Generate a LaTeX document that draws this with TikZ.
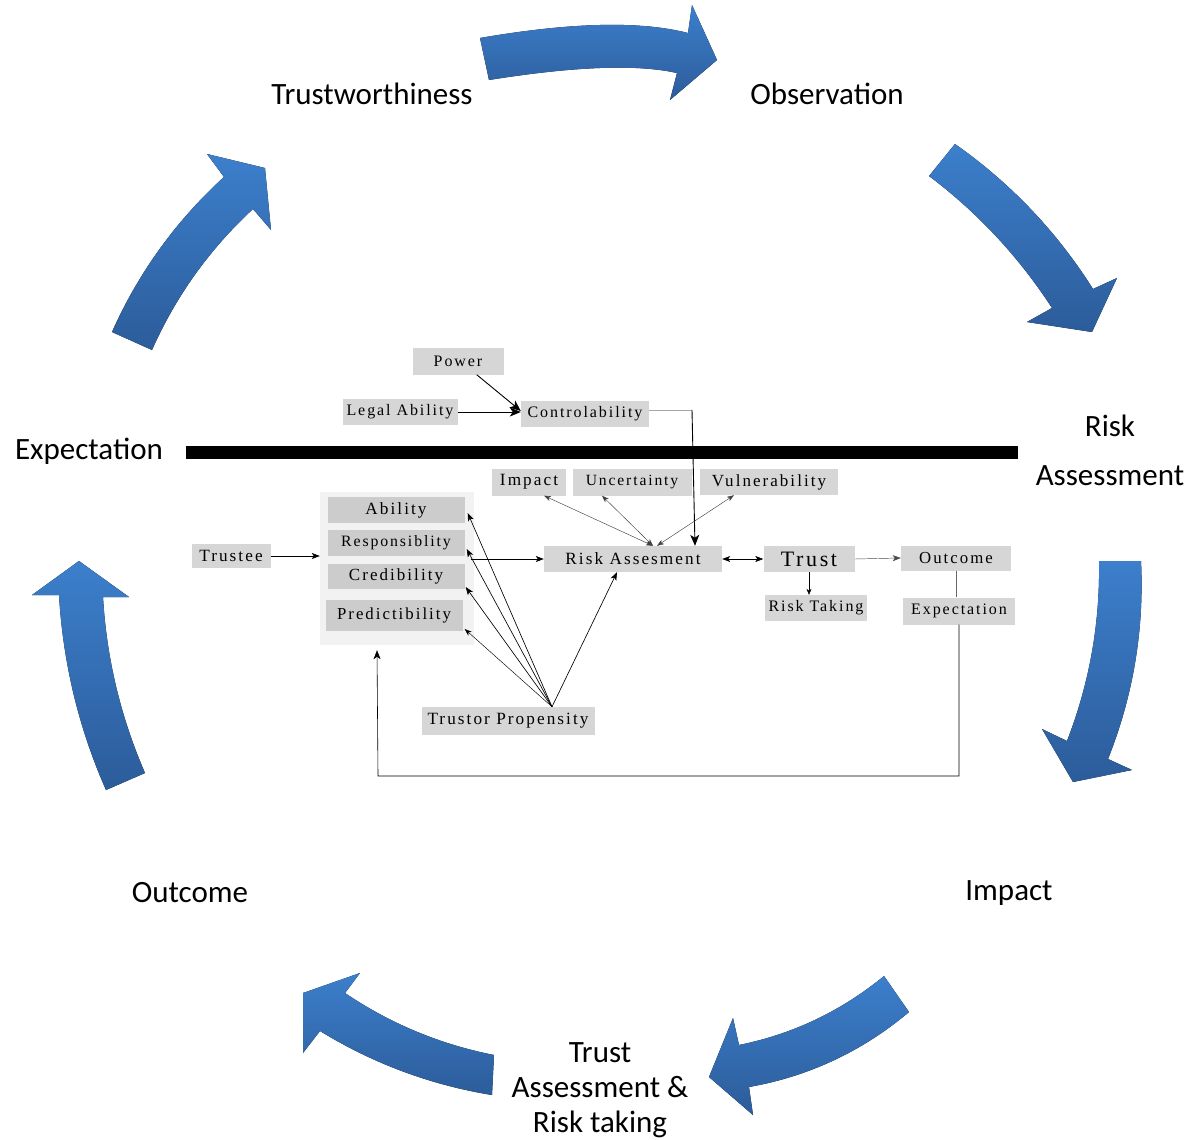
\documentclass[tikz,border=0pt]{standalone}
\usepackage{fontspec}
\newfontfamily\lfont{Carlito}
\newfontfamily\dfont[LetterSpace=12]{Liberation Serif}
\newcommand\dsz[1]{\dfont\fontsize{#1}{#1}\selectfont}
\usetikzlibrary{arrows.meta,calc}
\definecolor{bluetop}{HTML}{3C7FCC}
\definecolor{bluebot}{HTML}{2C5C9A}
\definecolor{boxgray}{HTML}{D6D6D6}
\definecolor{contgray}{HTML}{F2F2F2}
\tikzset{
  blockarrow/.style={top color=bluetop, bottom color=bluebot, draw=none},
  cyclabel/.style={font=\lfont\fontsize{31}{35}\selectfont, align=center, inner sep=0pt},
  gbox/.style={fill=boxgray, inner sep=0pt, font=\dsz{17}},
  bigarr/.style={line width=0.9pt, -{Stealth[length=11pt,width=9pt,inset=3pt]}},
  smallarr/.style={line width=0.65pt, -{Stealth[length=8pt,width=6pt,inset=2pt]}},
  thinarr/.style={line width=0.45pt, draw=black!75, {Stealth[length=7pt,width=5pt,inset=2pt]}-{Stealth[length=7pt,width=5pt,inset=2pt]}}
}
\begin{document}
\begin{tikzpicture}[x=1pt,y=-1pt]
\useasboundingbox (0,0) rectangle (1192,1140);

% ---------- cycle block arrows (quadratic edges) ----------
% top
\fill[blockarrow] (480,38)
  .. controls ($(480,38)!0.6667!(616,14.5)$) and ($(688,33)!0.6667!(616,14.5)$) .. (688,33)
  -- (692,5) -- (717,60) -- (670,100) -- (677,73)
  .. controls ($(677,73)!0.6667!(617,59.5)$) and ($(489,80)!0.6667!(617,59.5)$) .. (489,80) -- cycle;
% right top
\fill[blockarrow] (955,144)
  .. controls ($(955,144)!0.6667!(1038.5,202.7)$) and ($(1093,289)!0.6667!(1038.5,202.7)$) .. (1093,289)
  -- (1117,278) -- (1092,332) -- (1027,322) -- (1052,308)
  .. controls ($(1052,308)!0.6667!(1002,231)$) and ($(929,176)!0.6667!(1002,231)$) .. (929,176) -- cycle;
% right bottom
\fill[blockarrow] (1099,561) -- (1141,561)
  .. controls ($(1141,561)!0.6667!(1146,663.6)$) and ($(1108,759)!0.6667!(1146,663.6)$) .. (1108,759)
  -- (1132,770) -- (1073,782) -- (1042,729) -- (1067,741)
  .. controls ($(1067,741)!0.6667!(1100.7,654)$) and ($(1099,561)!0.6667!(1100.7,654)$) .. (1099,561) -- cycle;
% bottom right
\fill[blockarrow] (884,976)
  .. controls ($(884,976)!0.6667!(820,1028.6)$) and ($(739,1045)!0.6667!(820,1028.6)$) .. (739,1045)
  -- (733,1018) -- (709,1077) -- (753,1115) -- (749,1087)
  .. controls ($(749,1087)!0.6667!(839,1071)$) and ($(909,1012)!0.6667!(839,1071)$) .. (909,1012) -- cycle;
% bottom left
\fill[blockarrow] (494,1055)
  .. controls ($(494,1055)!0.6667!(413,1039)$) and ($(345,993)!0.6667!(413,1039)$) .. (345,993)
  -- (360,973) -- (303,993) -- (303,1053) -- (320,1031)
  .. controls ($(320,1031)!0.6667!(400,1080)$) and ($(492,1095)!0.6667!(400,1080)$) .. (492,1095) -- cycle;
% left
\fill[blockarrow] (106,790)
  .. controls ($(106,790)!0.6667!(65,697)$) and ($(59,595)!0.6667!(65,697)$) .. (59,595)
  -- (32,595) -- (79,561) -- (129,597) -- (103,597)
  .. controls ($(103,597)!0.6667!(108.4,688.7)$) and ($(145,773)!0.6667!(108.4,688.7)$) .. (145,773) -- cycle;
% left top
\fill[blockarrow] (152,350) -- (112,332)
  .. controls ($(112,332)!0.6667!(151.8,242.8)$) and ($(224,177)!0.6667!(151.8,242.8)$) .. (224,177)
  -- (207,154) -- (265,168) -- (271,230) -- (253,209)
  .. controls ($(253,209)!0.6667!(188,269)$) and ($(152,350)!0.6667!(188,269)$) .. (152,350) -- cycle;

% ---------- cycle labels ----------
\node[cyclabel] (lTW) at (372,94) {Trustworthiness};
\node[cyclabel] (lOB) at (827,94) {Observation};
\node[cyclabel] (lRA) at (1110,450) {Risk\\[14pt]Assessment};
\node[cyclabel] (lEX) at (89,451) {Expectation};
\node[cyclabel] (lIM) at (1009,893) {Impact};
\node[cyclabel] (lOU) at (190,893) {Outcome};
\node[cyclabel] (lTR) at (600,1090) {Trust\\Assessment \&\\Risk taking};

% ---------- separator bar ----------
\fill[black] (186,446) rectangle (1018,459);

% ---------- inner diagram ----------
\node[fill=contgray, minimum width=154pt, minimum height=153pt, inner sep=0pt] (cont) at (397,568.5) {};

\node[gbox, font=\dsz{16}, minimum width=91pt, minimum height=27pt] (power) at (458,361) {Power};
\node[gbox, font=\dsz{16}, minimum width=115pt, minimum height=26pt] (legal) at (400,412) {Legal Ability};
\node[gbox, font=\dsz{16}, minimum width=128pt, minimum height=26pt] (ctrl) at (585,414) {Controlability};
\node[gbox, font=\dsz{17.2}, minimum width=74pt, minimum height=27pt] (impact) at (529,482) {Impact};
\node[gbox, font=\dsz{15.6}, minimum width=119pt, minimum height=27pt] (unc) at (632,482) {Uncertainty};
\node[gbox, font=\dsz{17}, minimum width=138pt, minimum height=26pt] (vul) at (769,482) {Vulnerability};

\node[gbox, fill=black!20, font=\dsz{17.2}, minimum width=137pt, minimum height=26pt] (ability) at (396,510) {Ability};
\node[gbox, fill=black!20, font=\dsz{15.8}, minimum width=137pt, minimum height=26pt] (resp) at (396,543) {Responsiblity};
\node[gbox, fill=black!20, font=\dsz{17}, minimum width=137pt, minimum height=25pt] (cred) at (396,576) {Credibility};
\node[gbox, fill=black!20, font=\dsz{16.8}, minimum width=137pt, minimum height=31pt] (pred) at (394,615) {Predictibility};

\node[gbox, font=\dsz{17.2}, minimum width=79pt, minimum height=24pt] (trustee) at (231,556) {Trustee};
\node[gbox, font=\dsz{17.2}, minimum width=178pt, minimum height=26pt] (risk) at (633,559) {Risk Assesment};
\node[gbox, font=\dsz{22}, minimum width=91pt, minimum height=26pt] (trust) at (809,559) {Trust};
\node[gbox, font=\dsz{16.8}, minimum width=110pt, minimum height=25pt] (outcome) at (956,558) {Outcome};
\node[gbox, font=\dsz{16}, minimum width=102pt, minimum height=26pt] (rtake) at (816,608) {Risk Taking};
\node[gbox, font=\dsz{16}, minimum width=112pt, minimum height=27pt] (exp) at (959,611) {Expectation};
\node[gbox, font=\dsz{17.2}, minimum width=173pt, minimum height=28pt] (tprop) at (508,721) {Trustor Propensity};

% connectors
\draw[bigarr] ([xshift=-27pt]power.south east) -- ([yshift=3pt]ctrl.west);
\draw[bigarr] (legal.east) -- (legal.east -| ctrl.west);
\coordinate (cc) at (692,410);
\draw[line width=0.6pt, draw=black!35] ([yshift=4pt]ctrl.east) -- (cc);
\draw[bigarr] (cc) -- ([xshift=62pt]risk.north);

\coordinate (rtop) at ([xshift=20pt]risk.north);
\draw[thinarr] ([xshift=15pt]impact.south) -- (rtop);
\draw[thinarr] ([xshift=-30pt]unc.south) -- (rtop);
\draw[thinarr] ([xshift=-35pt]vul.south) -- ([xshift=24pt]risk.north);

\draw[smallarr] (trustee.east) -- (trustee.east -| cont.west);
\draw[smallarr] ([xshift=6pt,yshift=-16pt]resp.east) -- (risk.west);

\coordinate (tp) at ([xshift=44pt]tprop.north);
\draw[smallarr] (tp) -- ([xshift=3pt,yshift=-3pt]ability.east);
\draw[smallarr] (tp) -- ([xshift=2pt,yshift=-6pt]resp.east);
\draw[smallarr] (tp) -- ([xshift=1pt,yshift=-11pt]cred.east);
\draw[line width=0.45pt, -{Stealth[length=7pt,width=5pt,inset=2pt]}] (tp) -- ([xshift=2pt,yshift=-14pt]pred.east);
\draw[smallarr] (tp) -- ([xshift=-16pt]risk.south);

\draw[line width=0.6pt, {Stealth[length=8pt,width=6pt,inset=2pt]}-{Stealth[length=8pt,width=6pt,inset=2pt]}] (risk.east) -- (trust.west);
\draw[line width=0.45pt, draw=black!70, -{Stealth[length=8pt,width=6pt,inset=2pt]}] (trust.east) -- (outcome.west);
\draw[line width=0.45pt, -{Stealth[length=6pt,width=5pt,inset=2pt]}] (trust.south) -- (trust.south |- rtake.north);
\draw[line width=0.6pt, draw=black!60] (outcome.south) -- (outcome.south |- exp.north);

\coordinate (fb) at (378,776);
\draw[line width=0.6pt, -{Stealth[length=9pt,width=7pt,inset=2.5pt]}] (exp.south) |- (fb) -- ([xshift=-20pt,yshift=-5pt]cont.south);
\end{tikzpicture}
\end{document}
